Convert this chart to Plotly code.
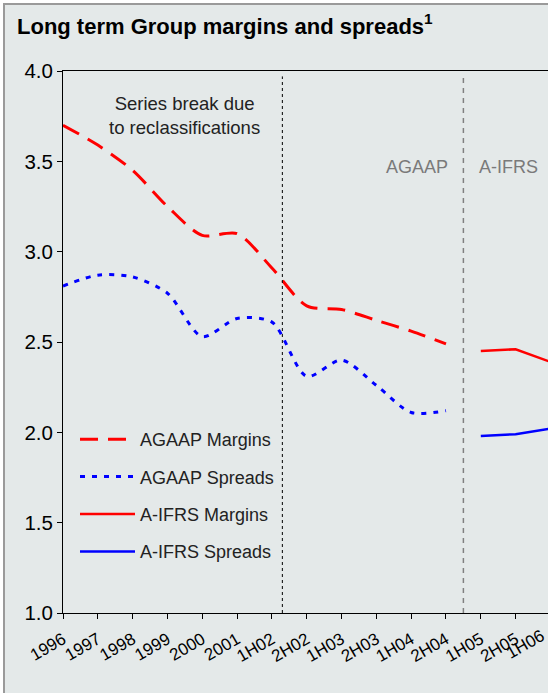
import plotly.graph_objects as go

# ---- data -------------------------------------------------------------
periods = ["1996", "1997", "1998", "1999", "2000", "2001", "1H02", "2H02",
           "1H03", "2H03", "1H04", "2H04", "1H05", "2H05", "1H06"]

agaap_margins = [3.70, 3.59, 3.45, 3.25, 3.09, 3.10, 2.91, 2.70, 2.68,
                 2.62, 2.56, 2.49, None, None, None]
agaap_spreads = [2.81, 2.87, 2.86, 2.77, 2.53, 2.63, 2.61, 2.31, 2.40,
                 2.26, 2.11, 2.12, None, None, None]
aifrs_margins = [None] * 12 + [2.45, 2.46, 2.39]
aifrs_spreads = [None] * 12 + [1.98, 1.99, 2.02]

series_break_at = 6.3      # between 1H02 and 2H02
standard_change_at = 11.5  # AGAAP -> A-IFRS

# ---- layout geometry ---------------------------------------------------
W, H = 548, 693
ML, MR, MT, MB = 63, 0, 71, 80
PW, PH = W - ML - MR, H - MT - MB
XR = [0, 13.93]
YR = [1.0, 4.0]
FONT = "Liberation Sans, Arial, sans-serif"
BG = "#E4E9E9"
TICK_ANGLE = -30
LABEL_STANDOFF = 4


def px_x(px):
    return (px - ML) / PW


def px_y(py):
    return 1 - (py - MT) / PH


idx = list(range(len(periods)))

fig = go.Figure()
fig.add_trace(go.Scatter(
    x=idx, y=agaap_margins, name="AGAAP Margins", mode="lines",
    line=dict(color="#FF0000", width=3, dash="18px,10px", shape="spline", smoothing=0.8),
    legendgroup="g1"))
fig.add_trace(go.Scatter(
    x=idx, y=agaap_spreads, name="AGAAP Spreads", mode="lines",
    line=dict(color="#0000FF", width=3, dash="5px,7px", shape="spline", smoothing=0.8),
    legendgroup="g2"))
fig.add_trace(go.Scatter(
    x=idx, y=aifrs_margins, name="A-IFRS Margins", mode="lines",
    line=dict(color="#FF0000", width=2.5), legendgroup="g3"))
fig.add_trace(go.Scatter(
    x=idx, y=aifrs_spreads, name="A-IFRS Spreads", mode="lines",
    line=dict(color="#0000FF", width=2.5), legendgroup="g4"))

shapes = [
    # framed panel behind the chart
    dict(type="rect", xref="paper", yref="paper", layer="below",
         x0=px_x(4), x1=px_x(W + 20), y0=px_y(H + 20), y1=px_y(4),
         fillcolor=BG, line=dict(color="#9A9A9A", width=2)),
    dict(type="line", xref="x", yref="y", x0=series_break_at, x1=series_break_at,
         y0=YR[0], y1=3.97, line=dict(color="#000000", width=1, dash="dot")),
    dict(type="line", xref="x", yref="y", x0=standard_change_at, x1=standard_change_at,
         y0=YR[0], y1=3.97, line=dict(color="#808080", width=1.5, dash="5px,5px")),
]

annotations = [
    dict(text="Series break due<br>to reclassifications", xref="x", yref="y",
         x=3.5, y=3.755, showarrow=False, font=dict(family=FONT, size=18.5, color="#222222"),
         align="center"),
    dict(text="AGAAP", xref="x", yref="y", x=standard_change_at, y=3.47,
         xanchor="right", xshift=-13, showarrow=False,
         font=dict(family=FONT, size=18, color="#7A7A7A")),
    dict(text="A-IFRS", xref="x", yref="y", x=standard_change_at, y=3.47,
         xanchor="left", xshift=14, showarrow=False,
         font=dict(family=FONT, size=18, color="#7A7A7A")),
    # label for the last period, whose tick sits just past the plot edge
    dict(text=periods[14], xref="paper", yref="paper",
         x=(14 - XR[0]) / (XR[1] - XR[0]), y=0, xanchor="right", yanchor="top",
         yshift=-(5 + LABEL_STANDOFF + 1), textangle=TICK_ANGLE, showarrow=False,
         font=dict(family=FONT, size=17, color="#000000")),
]

fig.update_layout(
    width=W, height=H,
    margin=dict(l=ML, r=MR, t=MT, b=MB, autoexpand=False),
    paper_bgcolor="#FFFFFF", plot_bgcolor="rgba(0,0,0,0)",
    font=dict(family=FONT, size=18, color="#000000"),
    title=dict(text="<b>Long term Group margins and spreads<sup>1</sup></b>",
               xref="container", yref="container", x=17 / W, y=1 - 26 / H,
               xanchor="left", yanchor="middle",
               font=dict(family=FONT, size=22, color="#000000")),
    showlegend=True,
    legend=dict(x=px_x(75), y=px_y(421), xanchor="left", yanchor="top",
                bgcolor="rgba(0,0,0,0)", font=dict(family=FONT, size=18, color="#222222"),
                tracegroupgap=11, itemwidth=55),
    xaxis=dict(range=XR, tickmode="array", tickvals=idx[:14], ticktext=periods[:14],
               tickangle=TICK_ANGLE, ticks="outside", ticklen=5, tickcolor="#000000",
               ticklabelstandoff=LABEL_STANDOFF,
               showline=True, linecolor="#000000", linewidth=1, mirror=True,
               showgrid=False, zeroline=False,
               tickfont=dict(family=FONT, size=17, color="#000000")),
    yaxis=dict(range=YR, tickmode="array", tickvals=[1.0, 1.5, 2.0, 2.5, 3.0, 3.5, 4.0],
               ticktext=["1.0", "1.5", "2.0", "2.5", "3.0", "3.5", "4.0"],
               ticks="outside", ticklen=5, tickcolor="#000000",
               showline=True, linecolor="#000000", linewidth=1,
               showgrid=False, zeroline=False,
               tickfont=dict(family=FONT, size=20.5, color="#000000")),
    shapes=shapes, annotations=annotations,
)

fig.write_html("out.html")
